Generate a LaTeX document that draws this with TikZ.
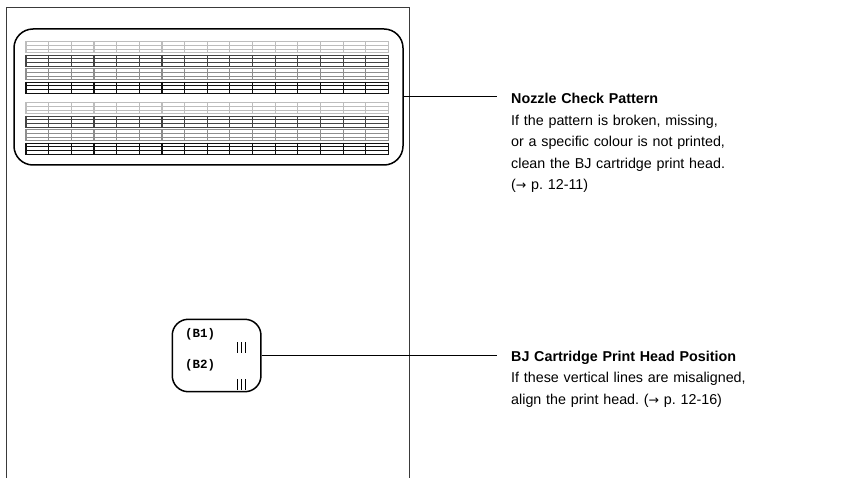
\documentclass[tikz,border=0pt]{standalone}
\usepackage{fontspec}
\setmainfont{Liberation Sans}
\newfontfamily\pmono{Liberation Mono}
\newfontfamily\arrowfont{DejaVu Sans}
\newcommand{\rarr}{{\arrowfont\fontsize{12.5pt}{12.5pt}\selectfont →}}
\definecolor{pageline}{HTML}{3A3A3A}
\definecolor{pc1}{HTML}{BDBDBD}
\definecolor{pc2}{HTML}{444444}
\definecolor{pc3}{HTML}{8E8E8E}
\definecolor{pc4}{HTML}{111111}
\tikzset{
  frame/.style={draw=black, line width=1.5pt, rounded corners=#1, rectangle, inner sep=0pt},
  conn/.style={draw=black, line width=1pt},
  txt/.style={anchor=base west, inner sep=0pt, text width=260pt, align=left,
              font=\frenchspacing\fontsize{14.3pt}{21.5pt}\selectfont},
  lbl/.style={anchor=west, inner sep=0pt, font=\pmono\bfseries\fontsize{12.5pt}{12.5pt}\selectfont},
  hline/.style={line width=0.9pt},
  vline/.style={line width=1.2pt},
  tick/.style={line width=0.9pt, black}
}
\begin{document}
\begin{tikzpicture}[x=1pt,y=-1pt]
\useasboundingbox (0,0) rectangle (858,478);
% page outline
\draw[pageline, line width=1pt] (6,478) -- (6,8) -- (409,8) -- (409,478);
% nozzle pattern
\foreach \by in {41.7,102.7}{
  \foreach \g/\col in {0/pc1,1/pc2,2/pc3,3/pc4}{
    \pgfmathsetmacro\gt{\by+13.5*\g}
    \foreach \k in {0,...,3}{
      \draw[hline,\col] (26,\gt+\k*3.67) -- (388.5,\gt+\k*3.67);
    }
    \foreach \i in {0,...,16}{
      \draw[vline,\col] (26+\i*22.65,\gt-0.6) -- (26+\i*22.65,\gt+11.8);
    }
  }
}
\node[frame=19pt, minimum width=389pt, minimum height=136pt] (pat) at (208.5,97) {};
% head position box
\node[frame=16pt, minimum width=88.7pt, minimum height=72.4pt] (hd) at (216.6,355.5) {};
\node[lbl] (b1) at (185,334.5) {(B1)};
\node[lbl] (b2) at (185,365) {(B2)};
\foreach \yy in {342,379}{
  \foreach \xx in {237.5,241.5,245.5}{
    \draw[tick] (\xx,\yy) -- (\xx,\yy+10.5);
  }
}
% connectors
\coordinate (c1) at (497,97);
\coordinate (c2) at (497,355.5);
\draw[conn] (pat.east) -- (c1);
\draw[conn] (hd.east) -- (c2);
% texts
\node[txt] (t1) at (511,104) {\textbf{Nozzle Check Pattern}\\If the pattern is broken, missing,\\or a specific colour is not printed,\\clean the BJ cartridge print head.\\(\rarr{} p. 12-11)};
\node[txt] (t2) at (511,361) {\textbf{BJ Cartridge Print Head Position}\\If these vertical lines are misaligned,\\align the print head. (\rarr{} p. 12-16)};
\end{tikzpicture}
\end{document}
